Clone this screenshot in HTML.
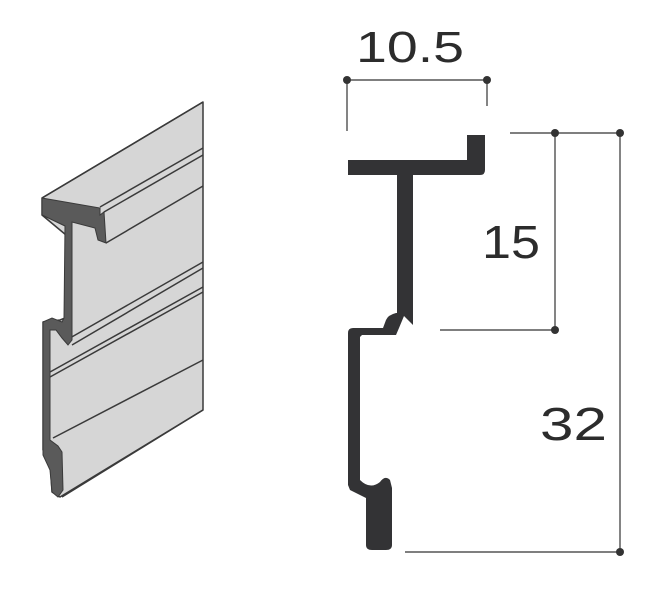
<!DOCTYPE html>
<html><head><meta charset="utf-8"><style>
html,body{margin:0;padding:0;background:#fff;}
svg{display:block;}
text{font-family:"Liberation Sans","DejaVu Sans",sans-serif;fill:#2c2c2c;}
</style></head><body>
<svg width="663" height="590" viewBox="0 0 663 590" xmlns="http://www.w3.org/2000/svg">
<!-- 3D view -->
<g stroke="#3a3a3a" stroke-width="1.5" stroke-linejoin="round">
<polygon points="42,198 203,102 203,410 60,497 52,492 50,460 43,450 43,322 60,320 65,318 66,235 42,215" fill="#d6d6d6"/>
<line x1="42" y1="198" x2="203" y2="102"/>
<line x1="100" y1="207" x2="203" y2="148"/>
<line x1="104" y1="212" x2="203" y2="155"/>
<line x1="106" y1="243" x2="203" y2="186"/>
<line x1="72" y1="345" x2="203" y2="268"/>
<line x1="70" y1="338" x2="203" y2="262"/>
<line x1="50" y1="372" x2="203" y2="287"/>
<line x1="50" y1="377" x2="203" y2="292"/>
<line x1="53" y1="438" x2="203" y2="360"/>
<line x1="62" y1="497" x2="203" y2="410"/>
</g>
<path d="M42,198 L100,208 L100,215 L104,212 L106,243 L98,240 L95,228 L72,222 L72,340 L68,345 L62,338 L56,330 L50,330 L50,440 L58,446 L62,452 L63,490 L58,497 L52,492 L50,470 L43,455 L43,322 L52,318 L62,322 L64,318 L65,226 L42,215 Z" fill="#5a5a5a" stroke="#3a3a3a" stroke-width="1"/>

<!-- profile -->
<path d="M348,160 L467,160 L467,135 L485,135 L485,170 Q485,175 480,175 L413,175 L413,325 L404,316 L399,328 L396,335 L362,335 L360,337 L360,480 Q370,490 380,482 Q385,475 390,480 L392,488 L392,545 Q392,550 386,550 L372,550 Q366,550 366,545 L366,498 L350,490 L348,485 L348,333 Q348,328 353,328 L383,328 L386,320 Q388,315 396,313 L397,313 L397,175 L348,175 Z" fill="#333335"/>

<!-- dimensions -->
<g stroke="#333" stroke-width="1.2">
<line x1="347" y1="80" x2="487" y2="80"/>
<line x1="347" y1="80" x2="347" y2="131"/>
<line x1="487" y1="80" x2="487" y2="106"/>
<line x1="510" y1="133" x2="620" y2="133"/>
<line x1="440" y1="330" x2="555" y2="330"/>
<line x1="405" y1="552" x2="620" y2="552"/>
<line x1="555" y1="133" x2="555" y2="330"/>
<line x1="620" y1="133" x2="620" y2="552"/>
</g>
<g fill="#333">
<circle cx="347" cy="80" r="4"/><circle cx="487" cy="80" r="4"/>
<circle cx="555" cy="133" r="4"/><circle cx="620" cy="133" r="4"/>
<circle cx="555" cy="330" r="4"/><circle cx="620" cy="552" r="4"/>
</g>
<text x="356" y="62" font-size="44" textLength="108" lengthAdjust="spacingAndGlyphs">10.5</text>
<text x="482" y="258" font-size="46" textLength="58" lengthAdjust="spacingAndGlyphs">15</text>
<text x="540" y="440" font-size="46" textLength="67" lengthAdjust="spacingAndGlyphs">32</text>
</svg>
</body></html>
